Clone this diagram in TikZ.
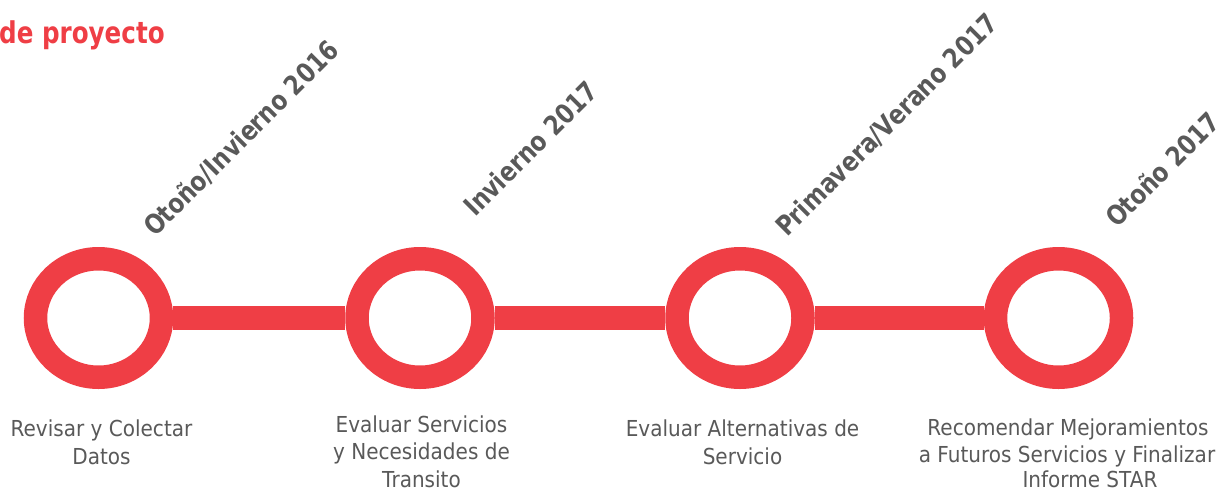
\documentclass[tikz,border=0pt]{standalone}
\usepackage{fontspec}
\setmainfont{DejaVu Sans}
\newfontfamily\capfont{DejaVu Sans}[FakeStretch=0.91]
\newfontfamily\boldnarrow{DejaVu Sans}[FakeStretch=0.84]
\newfontfamily\titlefont{DejaVu Sans}[FakeStretch=0.82]
\usetikzlibrary{shapes.geometric}
\definecolor{ringred}{RGB}{239,62,69}
\definecolor{txtgray}{RGB}{89,89,89}
\tikzset{
  ring/.style={draw=ringred, line width=23.5pt, fill=white, ellipse, inner sep=0pt,
    minimum width=126pt, minimum height=118.5pt},
  bar/.style={draw=ringred, line width=24pt},
  season/.style={rotate=45, anchor=base west, inner sep=0pt, text=txtgray,
    font=\boldnarrow\fontsize{27}{32}\selectfont\bfseries},
  capline/.style={anchor=base, inner sep=0pt, text=txtgray,
    font=\capfont\fontsize{22}{27.5}\selectfont},
  title/.style={anchor=base west, inner sep=0pt, text=ringred,
    font=\titlefont\fontsize{30}{36}\selectfont\bfseries}
}
\begin{document}
\begin{tikzpicture}[x=1pt, y=-1pt]
\useasboundingbox (0,0) rectangle (1230,490);
\node[title] (title) at (-1,43) {de proyecto};
% rings
\node[ring] (r1) at (98.5,318) {};
\node[ring] (r2) at (420,318) {};
\node[ring] (r3) at (740,318) {};
\node[ring] (r4) at (1058.5,318) {};
% bars
\draw[bar] (r1) -- (r2);
\draw[bar] (r2) -- (r3);
\draw[bar] (r3) -- (r4);
% season labels
\node[season] (s1) at (155,238) {Otoño/Invierno 2016};
\node[season] (s2) at (475,218) {Invierno 2017};
\node[season] (s3) at (787,238) {Primavera/Verano 2017};
\node[season] (s4) at (1117,229) {Otoño 2017};
% captions
\node[capline] (c1a) at (101.5,436) {Revisar y Colectar};
\node[capline] (c1b) at (101.5,464) {Datos};
\node[capline] (c2a) at (421.5,432) {Evaluar Servicios};
\node[capline] (c2b) at (421.5,459.5) {y Necesidades de};
\node[capline] (c2c) at (421.5,487) {Transito};
\node[capline] (c3a) at (742.5,436) {Evaluar Alternativas de};
\node[capline] (c3b) at (742.5,464) {Servicio};
\node[capline] (c4a) at (1068,435) {Recomendar Mejoramientos};
\node[capline] (c4b) at (1067,462.5) {a Futuros Servicios y Finalizar};
\node[capline] (c4c) at (1090,487) {Informe STAR};
\end{tikzpicture}
\end{document}
